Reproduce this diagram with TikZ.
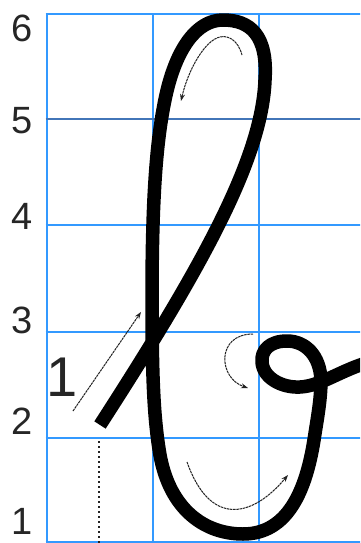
\documentclass[tikz,border=0pt]{standalone}
\usepackage{fontspec}
\setmainfont{Liberation Sans}
\usetikzlibrary{arrows.meta}
\definecolor{gridBlue}{HTML}{3399FF}
\definecolor{gridMid}{HTML}{4275B8}
\definecolor{guideInk}{HTML}{222222}
\tikzset{
  gridline/.style={draw=gridBlue, line width=2.9pt},
  rowlabel/.style={inner sep=0pt, font=\fontsize{38}{40}\selectfont, text=black!85},
  steplabel/.style={inner sep=0pt, font=\fontsize{56}{60}\selectfont, text=black!85},
  letter/.style={draw=black, line width=13.5pt, line cap=butt, line join=round},
  guide/.style={draw=guideInk, line width=1pt, dash pattern=on 2.5pt off 0.7pt,
    -{Stealth[length=7pt,width=5pt]}},
  baseguide/.style={draw=guideInk, line width=1.2pt, dash pattern=on 1.5pt off 3.5pt}
}
\begin{document}
\begin{tikzpicture}[x=1pt,y=-1pt]
  \useasboundingbox (0,0) rectangle (360,543);
  \fill[white] (0,0) rectangle (360,543);
  \clip (0,0) rectangle (360,543);
  % grid
  \foreach \gx in {47,153,259}{\draw[gridline] (\gx,14) -- (\gx,545);}
  \foreach \gy in {14,225,332,438,542}{\draw[gridline] (45.6,\gy) -- (362,\gy);}
  \draw[gridline, draw=gridMid] (45.6,119) -- (362,119);
  % row numbers
  \foreach \n/\y in {6/28,5/121,4/216,3/320,2/421,1/521}{\node[rowlabel] (row\n) at (22,\y) {\n};}
  \node[steplabel] (stepone) at (62,377) {1};
  % start point and base
  \coordinate (start) at (99,441);
  \coordinate (base) at (99,545);
  \draw[baseguide] (start) -- (base);
  % letter
  \draw[letter] (100,425)
    .. controls (200,270) and (262,160) .. (265,80)
    .. controls (268,35) and (250,20) .. (223,20)
    .. controls (196,20) and (176,50) .. (166,95)
    .. controls (156,140) and (152,200) .. (152,300)
    .. controls (152,380) and (154,420) .. (160,455)
    .. controls (170,510) and (205,534) .. (243,534)
    .. controls (288,534) and (306,490) .. (314,440)
    .. controls (317,420) and (321,400) .. (321,380)
    .. controls (320,355) and (305,341) .. (287,341)
    .. controls (270,341) and (261,350) .. (262,362)
    .. controls (263,378) and (282,388) .. (300,387)
    .. controls (320,386) and (338,372) .. (366,363);
  % direction guides
  \coordinate (leadfrom) at (73,411);
  \coordinate (leadto) at (141,312);
  \draw[guide] (leadfrom) -- (leadto);
  \draw[guide] (242,55) .. controls (238,40) and (228,35) .. (220,37)
    .. controls (205,40) and (188,70) .. (181,101);
  \draw[guide] (253,334) .. controls (216,334) and (218,378) .. (248,388);
  \draw[guide] (187,462) .. controls (210,527) and (252,518) .. (288,475);
\end{tikzpicture}
\end{document}
